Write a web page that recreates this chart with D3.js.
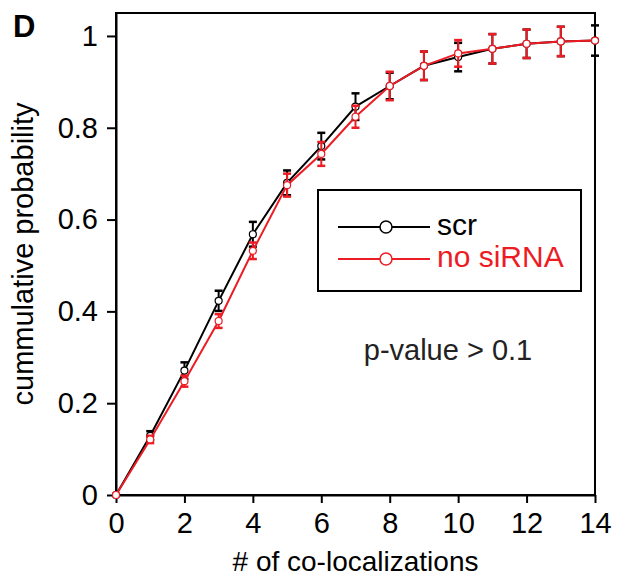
<!DOCTYPE html>
<html>
<head>
<meta charset="utf-8">
<script src="https://cdn.jsdelivr.net/npm/d3@7"></script>
<style>
	body { margin: 0; background: white; }
	svg { display: block; font-family: "Liberation Sans", Arial, sans-serif; }
</style>
</head>
<body>
<div id="chart"></div>
<script>
// data
var colocs = [0, 1, 2, 3, 4, 5, 6, 7, 8, 9, 10, 11, 12, 13, 14];
var scr = [0, 0.129, 0.271, 0.423, 0.568, 0.680, 0.760, 0.846, 0.891, 0.935, 0.954, 0.972, 0.983, 0.988, 0.990];
var scrErr = [0, 0.010, 0.018, 0.022, 0.027, 0.027, 0.029, 0.029, 0.029, 0.031, 0.031, 0.032, 0.031, 0.032, 0.033];
var noSiRNA = [0, 0.121, 0.248, 0.379, 0.532, 0.675, 0.743, 0.824, 0.891, 0.935, 0.962, 0.972, 0.983, 0.988, 0.990];
var noSiRNAErr = [0, 0.008, 0.012, 0.015, 0.018, 0.025, 0.026, 0.024, 0.031, 0.031, 0.029, 0.032, 0.031, 0.032, 0];
var xTicks = [0, 2, 4, 6, 8, 10, 12, 14];
var yTicks = [0, 0.2, 0.4, 0.6, 0.8, 1];
var seriesNames = ["scr", "no siRNA"];
var seriesColors = ["#000000", "#ed1c24"];

var w = 622;
var h = 583;
// plot box (don't call it "top", window.top is taken!)
var pLeft = 116, pRight = 595, pTop = 13, pBottom = 495;

var svg = d3.select("#chart")
	.append("svg")
	.attr("width", w)
	.attr("height", h);

var xScale = d3.scaleLinear()
	.domain([0, 14])
	.range([pLeft, pRight]);
var yScale = d3.scaleLinear()
	.domain([0, 1.05])
	.range([pBottom, pTop]);

// frame
svg.append("rect")
	.attr("x", pLeft)
	.attr("y", pTop)
	.attr("width", pRight - pLeft)
	.attr("height", pBottom - pTop)
	.attr("fill", "none")
	.attr("stroke", "black")
	.attr("stroke-width", 2);

var xAxis = svg.append("g")
	.attr("transform", "translate(0," + pBottom + ")")
	.call(d3.axisBottom(xScale).tickValues(xTicks).tickSize(8).tickPadding(9).tickSizeOuter(0));
var yAxis = svg.append("g")
	.attr("transform", "translate(" + pLeft + ",0)")
	.call(d3.axisLeft(yScale).tickValues(yTicks).tickSize(9).tickPadding(9).tickSizeOuter(0)
		.tickFormat(function(d) { return d3.format("")(d); }));

[xAxis, yAxis].forEach(function(a) {
	a.select(".domain").attr("stroke-width", 2);
	a.selectAll(".tick line").attr("stroke-width", 2);
	a.selectAll(".tick text")
		.attr("font-size", "29px")
		.attr("font-family", "Liberation Sans, Arial, sans-serif")
		.attr("fill", "black");
});

var series = [
	{ name: seriesNames[0], values: scr, errs: scrErr, color: seriesColors[0] },
	{ name: seriesNames[1], values: noSiRNA, errs: noSiRNAErr, color: seriesColors[1] }
];

var line = d3.line()
	.x(function(d) { return xScale(d.x); })
	.y(function(d) { return yScale(d.y); });

series.forEach(function(s) {
	var pts = colocs.map(function(c, i) {
		return { x: c, y: s.values[i], e: s.errs[i] };
	});
	var g = svg.append("g");

	// error bars
	var eb = g.selectAll(".err")
		.data(pts.filter(function(d) { return d.e > 0; }))
		.enter()
		.append("g")
		.attr("stroke", s.color)
		.attr("stroke-width", 2);
	eb.append("line")
		.attr("x1", function(d) { return xScale(d.x); })
		.attr("x2", function(d) { return xScale(d.x); })
		.attr("y1", function(d) { return yScale(d.y - d.e); })
		.attr("y2", function(d) { return yScale(d.y + d.e); });
	[-1, 1].forEach(function(sign) {
		eb.append("line")
			.attr("x1", function(d) { return xScale(d.x) - 4; })
			.attr("x2", function(d) { return xScale(d.x) + 4; })
			.attr("y1", function(d) { return yScale(d.y + sign * d.e); })
			.attr("y2", function(d) { return yScale(d.y + sign * d.e); })
			.attr("stroke-width", 2.5);
	});

	g.append("path")
		.datum(pts)
		.attr("fill", "none")
		.attr("stroke", s.color)
		.attr("stroke-width", 2)
		.attr("d", line);

	g.selectAll("circle")
		.data(pts)
		.enter()
		.append("circle")
		.attr("cx", function(d) { return xScale(d.x); })
		.attr("cy", function(d) { return yScale(d.y); })
		.attr("r", 3.5)
		.attr("fill", "white")
		.attr("stroke", s.color)
		.attr("stroke-width", 1.2);
});

// legend
svg.append("rect")
	.attr("x", 318)
	.attr("y", 190)
	.attr("width", 263)
	.attr("height", 101)
	.attr("fill", "white")
	.attr("stroke", "black")
	.attr("stroke-width", 2);

series.forEach(function(s, i) {
	var ly = 227 + i * 32;
	svg.append("line")
		.attr("x1", 338)
		.attr("x2", 430)
		.attr("y1", ly)
		.attr("y2", ly)
		.attr("stroke", s.color)
		.attr("stroke-width", 2);
	svg.append("circle")
		.attr("cx", 386)
		.attr("cy", ly)
		.attr("r", 6)
		.attr("fill", "white")
		.attr("stroke", s.color)
		.attr("stroke-width", 1.5);
	svg.append("text")
		.attr("x", 437)
		.attr("y", ly + 8)
		.attr("font-size", "30px")
		.attr("fill", s.color)
		.text(s.name);
});

svg.append("text")
	.attr("x", 448)
	.attr("y", 360)
	.attr("text-anchor", "middle")
	.attr("font-size", "29px")
	.attr("fill", "#222")
	.text("p-value > 0.1");

// axis titles
svg.append("text")
	.attr("x", (pLeft + pRight) / 2)
	.attr("y", 571)
	.attr("text-anchor", "middle")
	.attr("font-size", "28px")
	.text("# of co-localizations");

svg.append("text")
	.attr("transform", "translate(33,254) rotate(-90)")
	.attr("text-anchor", "middle")
	.attr("font-size", "29px")
	.text("cummulative probability");

svg.append("text")
	.attr("x", 13)
	.attr("y", 37)
	.attr("font-size", "31px")
	.attr("font-weight", "bold")
	.text("D");
</script>
</body>
</html>
